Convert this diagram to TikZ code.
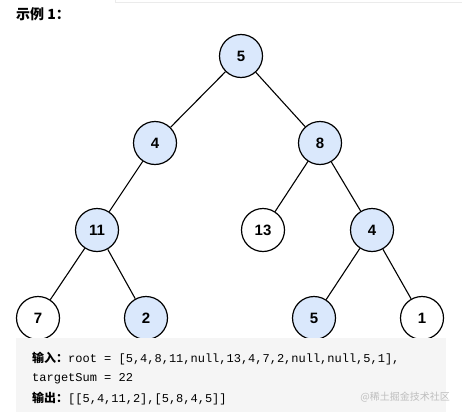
\documentclass[tikz,border=0pt]{standalone}
\usepackage{fontspec}
\setmainfont{Liberation Sans}
\setmonofont{Liberation Mono}
\newfontfamily\cjk{Noto Sans CJK SC}
\definecolor{nodeblue}{RGB}{218,232,252}
\definecolor{panelgray}{RGB}{245,245,245}
\definecolor{markgray}{RGB}{190,190,190}
\begin{document}
\begin{tikzpicture}[x=1pt,y=-1pt,
  tnode/.style={circle,draw=black,line width=1.2pt,minimum size=43pt,inner sep=0pt,
    font=\fontsize{15}{15}\selectfont\bfseries},
  hl/.style={tnode,fill=nodeblue},
  pl/.style={tnode,fill=white},
  edge/.style={draw=black,line width=1.1pt},
  codetext/.style={anchor=west,inner sep=0pt,font=\fontsize{12}{12}\selectfont}]
\useasboundingbox (0,0) rectangle (462,412);
\fill[white] (0,0) rectangle (462,412);
\draw[draw=black!8,line width=1pt] (115,-5) rectangle (470,3);
\node[anchor=west,inner sep=0pt,font=\cjk\bfseries\fontsize{14}{14}\selectfont] (title) at (16,14) {示例 1：};
% nodes
\node[hl] (n5) at (241,56) {5};
\node[hl] (n4) at (155,143) {4};
\node[hl] (n8) at (320,143) {8};
\node[hl] (n11) at (97,230) {11};
\node[pl] (n13) at (263,230) {13};
\node[hl] (n4b) at (372,230) {4};
\node[pl] (n7) at (38,318) {7};
\node[hl] (n2) at (146,318) {2};
\node[hl] (n5b) at (314,318) {5};
\node[pl] (n1) at (422,318) {1};
% edges
\draw[edge] (n5) -- (n4);
\draw[edge] (n5) -- (n8);
\draw[edge] (n4) -- (n11);
\draw[edge] (n8) -- (n13);
\draw[edge] (n8) -- (n4b);
\draw[edge] (n11) -- (n7);
\draw[edge] (n11) -- (n2);
\draw[edge] (n4b) -- (n5b);
\draw[edge] (n4b) -- (n1);
% panel
\fill[panelgray] (16,338) rectangle (446,412);
\node[codetext] (l1) at (32,359) {{\cjk\bfseries 输入：}\texttt{root = [5,4,8,11,null,13,4,7,2,null,null,5,1],}};
\node[codetext] (l2) at (32,379) {\texttt{targetSum = 22}};
\node[codetext] (l3) at (32,399) {{\cjk\bfseries 输出：}\texttt{[[5,4,11,2],[5,8,4,5]]}};
\node[anchor=east,inner sep=0pt,text=markgray,font=\cjk\fontsize{10}{10}\selectfont] (wm) at (450,397) {@稀土掘金技术社区};
\end{tikzpicture}
\end{document}
